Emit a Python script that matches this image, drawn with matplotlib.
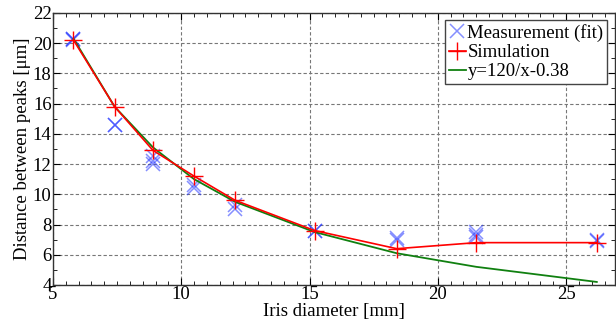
import matplotlib
matplotlib.use("Agg")
import matplotlib.pyplot as plt
from matplotlib.ticker import MultipleLocator

plt.rcParams['font.family'] = ['Liberation Serif', 'DejaVu Serif']
plt.rcParams['mathtext.fontset'] = 'stix'

# Measurement (fit) points (several repeats per iris diameter)
meas_x = [5.8, 5.8, 5.8, 7.4, 7.4, 8.9, 8.9, 8.9, 10.5, 10.5, 12.1, 12.1,
          15.2, 15.2, 18.4, 18.4, 21.5, 21.5, 21.5, 26.2, 26.2]
meas_y = [20.3, 20.2, 20.25, 14.6, 14.55, 12.5, 12.2, 12.0, 10.6, 10.4, 9.3, 9.0,
          7.6, 7.55, 7.0, 7.1, 7.5, 7.3, 7.2, 7.0, 6.9]

# Simulation
sim_x = [5.8, 7.4, 8.9, 10.5, 12.1, 15.2, 18.4, 21.5, 26.2]
sim_y = [20.2, 15.8, 12.9, 11.2, 9.6, 7.6, 6.4, 6.8, 6.8]

# Fit curve y = 120/x - 0.38
fit_x = [5.8, 7.4, 8.9, 10.5, 12.1, 15.2, 18.4, 21.5, 26.2]
fit_y = [20.3, 15.8, 13.1, 11.0, 9.5, 7.5, 6.1, 5.2, 4.2]

fig = plt.figure(figsize=(6.16, 3.22), dpi=100)
ax = fig.add_axes([0.086, 0.115, 0.912, 0.845])

ax.plot(meas_x, meas_y, linestyle='none', marker='x', color='#2233ff',
        markersize=10, markeredgewidth=1.1, alpha=0.55, label='Measurement (fit)', zorder=3)
ax.plot(sim_x, sim_y, color='red', marker='+', markersize=13, markeredgewidth=1.0,
        linewidth=1.2, label='Simulation', zorder=4)
ax.plot(fit_x, fit_y, color='#108010', linewidth=1.3, label='y=120/x-0.38', zorder=3.5)

ax.set_xlim(5, 26.9)
ax.set_ylim(4, 22)
ax.set_xticks([5, 10, 15, 20, 25])
ax.set_yticks(range(4, 23, 2))
ax.xaxis.set_minor_locator(MultipleLocator(0.5))
ax.yaxis.set_minor_locator(MultipleLocator(1))
ax.tick_params(which='both', direction='in', top=True, right=True, labelsize=13.5, pad=1)
ax.tick_params(which='major', length=5)
ax.tick_params(which='minor', length=3)
ax.grid(True, which='major', color='#777777', linestyle=(0, (3, 2)), linewidth=0.8)
for s in ax.spines.values():
    s.set_color('#333333')
    s.set_linewidth(1.0)

ax.set_xlabel('Iris diameter [mm]', fontsize=13.5, labelpad=0)
ax.set_ylabel('Distance between peaks [μm]', fontsize=13.5, labelpad=1)

leg = ax.legend(loc='upper right', fontsize=13.5, handlelength=0.9, handletextpad=0.1,
                borderpad=0.2, labelspacing=0.1, borderaxespad=0.4, fancybox=False,
                framealpha=1, edgecolor='#444444')
leg.get_frame().set_linewidth(1.0)

fig.savefig('out.png', dpi=100)
